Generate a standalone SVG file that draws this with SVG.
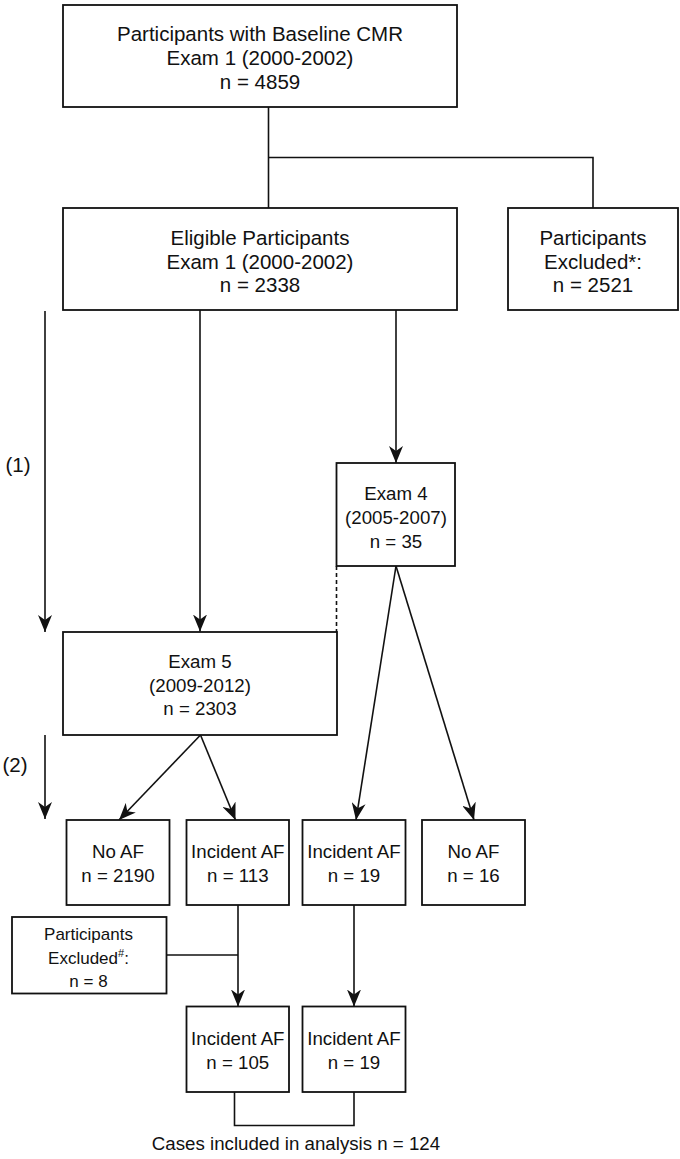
<svg xmlns="http://www.w3.org/2000/svg" width="680" height="1159" viewBox="0 0 680 1159">
<style>
.box{fill:#fff;stroke:#111;stroke-width:1.8}
.ln{fill:none;stroke:#111;stroke-width:1.6}
.dash{fill:none;stroke:#111;stroke-width:1.6;stroke-dasharray:4 3}
text{font-family:"Liberation Sans",Arial,sans-serif;fill:#111;text-anchor:middle}
.t20{font-size:20.5px}
.t18{font-size:18.7px}
.t17{font-size:17px}
</style>
<defs>
<marker id="arr" markerUnits="userSpaceOnUse" viewBox="0 0 17 14" refX="17" refY="7" markerWidth="17" markerHeight="14" orient="auto">
<path d="M0,0 L17,7 L0,14 L5,7 Z" fill="#111"/>
</marker>
</defs>
<rect width="680" height="1159" fill="#fff"/>
<g id="connectors">
<path class="ln" d="M268.5,107 V208 M268.5,157.5 H593 V208"/>
<line class="ln" x1="45" y1="311" x2="45" y2="632" marker-end="url(#arr)"/>
<line class="ln" x1="200" y1="310" x2="200" y2="631.5" marker-end="url(#arr)"/>
<line class="ln" x1="396" y1="310" x2="396" y2="463" marker-end="url(#arr)"/>
<line class="dash" x1="336.5" y1="566" x2="336.5" y2="632"/>
<line class="ln" x1="45" y1="735" x2="45" y2="819" marker-end="url(#arr)"/>
<line class="ln" x1="200.5" y1="735" x2="119" y2="820" marker-end="url(#arr)"/>
<line class="ln" x1="200.5" y1="735" x2="235.5" y2="820" marker-end="url(#arr)"/>
<line class="ln" x1="396" y1="566" x2="356" y2="820" marker-end="url(#arr)"/>
<line class="ln" x1="396" y1="566" x2="474" y2="820" marker-end="url(#arr)"/>
<line class="ln" x1="238" y1="905" x2="238" y2="1006.5" marker-end="url(#arr)"/>
<line class="ln" x1="166.5" y1="955" x2="238" y2="955"/>
<line class="ln" x1="354" y1="905" x2="354" y2="1006.5" marker-end="url(#arr)"/>
<path class="ln" d="M234.5,1092 V1125.5 H354 V1092"/>
</g>
<g id="n-baseline">
<rect class="box" x="63" y="5" width="394" height="102"/>
<text class="t20" x="260" y="41">Participants with Baseline CMR</text>
<text class="t20" x="260" y="65">Exam 1 (2000-2002)</text>
<text class="t20" x="260" y="89">n = 4859</text>
</g>
<g id="n-eligible">
<rect class="box" x="63" y="208" width="394" height="102"/>
<text class="t20" x="260" y="245">Eligible Participants</text>
<text class="t20" x="260" y="268.5">Exam 1 (2000-2002)</text>
<text class="t20" x="260" y="292">n = 2338</text>
</g>
<g id="n-excluded1">
<rect class="box" x="508" y="208" width="170" height="102"/>
<text class="t20" x="593" y="245">Participants</text>
<text class="t20" x="593" y="268.5">Excluded*:</text>
<text class="t20" x="593" y="292">n = 2521</text>
</g>
<g id="label-1">
<text class="t20" x="18" y="472">(1)</text>
</g>
<g id="label-2">
<text class="t20" x="15" y="772">(2)</text>
</g>
<g id="n-exam4">
<rect class="box" x="336.5" y="463" width="118.5" height="103"/>
<text class="t18" x="396" y="500">Exam 4</text>
<text class="t18" x="396" y="524">(2005-2007)</text>
<text class="t18" x="396" y="547.5">n = 35</text>
</g>
<g id="n-exam5">
<rect class="box" x="63" y="632" width="274" height="103"/>
<text class="t18" x="200" y="668">Exam 5</text>
<text class="t18" x="200" y="692">(2009-2012)</text>
<text class="t18" x="200" y="715">n = 2303</text>
</g>
<g id="n-noaf1">
<rect class="box" x="66.5" y="820" width="103" height="85"/>
<text class="t18" x="118" y="858">No AF</text>
<text class="t18" x="118" y="881.5">n = 2190</text>
</g>
<g id="n-inc113">
<rect class="box" x="186.5" y="820" width="102.5" height="85"/>
<text class="t18" x="237.8" y="858">Incident AF</text>
<text class="t18" x="237.8" y="881.5">n = 113</text>
</g>
<g id="n-inc19">
<rect class="box" x="302.5" y="820" width="103" height="85"/>
<text class="t18" x="354" y="858">Incident AF</text>
<text class="t18" x="354" y="881.5">n = 19</text>
</g>
<g id="n-noaf16">
<rect class="box" x="422" y="820" width="103" height="85"/>
<text class="t18" x="473.5" y="858">No AF</text>
<text class="t18" x="473.5" y="881.5">n = 16</text>
</g>
<g id="n-excluded2">
<rect class="box" x="12" y="917" width="154.5" height="76.5"/>
<text class="t17" x="88.5" y="940">Participants</text>
<text class="t17" x="88.5" y="963.5">Excluded<tspan font-size="11" dy="-7">#</tspan><tspan dy="7">:</tspan></text>
<text class="t17" x="88.5" y="987">n = 8</text>
</g>
<g id="n-inc105">
<rect class="box" x="186.5" y="1006.5" width="102.5" height="85.5"/>
<text class="t18" x="237.8" y="1045">Incident AF</text>
<text class="t18" x="237.8" y="1069">n = 105</text>
</g>
<g id="n-inc19b">
<rect class="box" x="302.5" y="1006.5" width="103" height="85.5"/>
<text class="t18" x="354" y="1045">Incident AF</text>
<text class="t18" x="354" y="1069">n = 19</text>
</g>
<g id="caption">
<text class="t18" x="296" y="1150">Cases included in analysis n = 124</text>
</g>
</svg>
